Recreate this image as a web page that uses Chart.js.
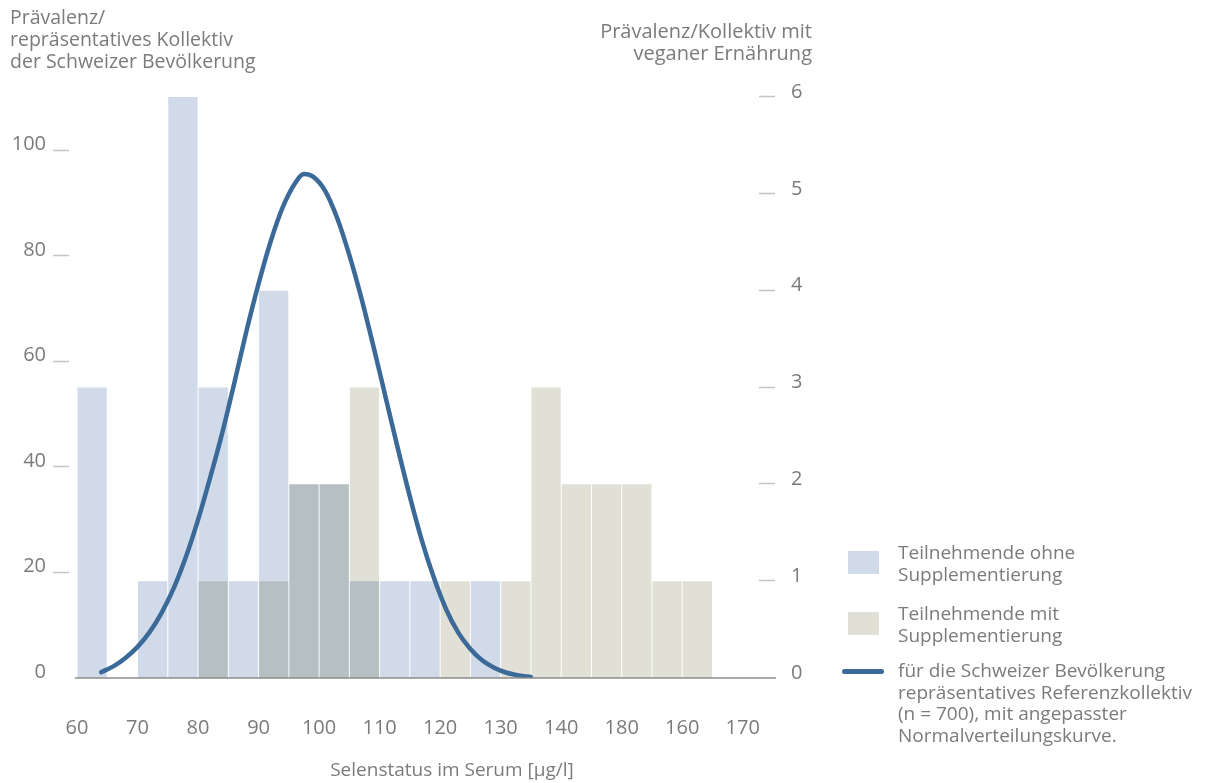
<!DOCTYPE html>
<html lang="de">
<head>
<meta charset="utf-8">
<title>Selenstatus im Serum</title>
<script src="https://cdn.jsdelivr.net/npm/chart.js@4.4.1/dist/chart.umd.min.js"></script>
<style>
    html, body { margin: 0; padding: 0; background: #fff; }
    body { font-family: "Open Sans", "Noto Sans", sans-serif; color: #7b7b7b; }
    #wrap { position: relative; width: 1219px; height: 783px; overflow: hidden; }
    #chart { position: absolute; left: 0; top: 0; }
    .txt { position: absolute; font-size: 19.5px; line-height: 22px; white-space: nowrap; }
    #titleLeft { left: 10px; top: 6px; }
    #titleRight { right: 407px; top: 20px; text-align: right; font-size: 20px; }
    #titleX { left: 452px; top: 758px; transform: translateX(-50%); font-size: 19px; }
    .legend-item { position: absolute; left: 842px; }
    .legend-item .swatch { position: absolute; }
    .legend-item .label { position: absolute; left: 56px; top: 0; font-size: 19px; line-height: 21.5px; white-space: nowrap; }
</style>
</head>
<body>
<div id="wrap">
    <canvas id="chart" width="1219" height="783"></canvas>
    <div class="txt" id="titleLeft">Prävalenz/<br>repräsentatives Kollektiv<br>der Schweizer Bevölkerung</div>
    <div class="txt" id="titleRight">Prävalenz/Kollektiv mit<br>veganer Ernährung</div>
    <div class="txt" id="titleX">Selenstatus im Serum [µg/l]</div>
    <div id="legend"></div>
</div>
<script>
// histogram bins (lower edge, width 5 µg/l)
const binStarts = [60, 65, 70, 75, 80, 85, 90, 95, 100, 105, 110, 115, 120, 125, 130, 135, 140, 145, 150, 155, 160];
const ohneSupplement = [3, 0, 1, 6, 3, 1, 4, 2, 2, 1, 1, 1, 0, 1, 0, 0, 0, 0, 0, 0, 0];
const mitSupplement  = [0, 0, 0, 0, 1, 0, 1, 2, 2, 3, 0, 0, 1, 0, 1, 3, 2, 2, 2, 1, 1];

// fitted normal curve of the reference group (left axis)
const curveX = [64, 66, 68, 70, 72, 74, 76, 78, 80, 82, 84, 86, 88, 90, 92, 94, 96, 97.5, 99, 101, 103, 105, 107, 109, 111, 113, 115, 117, 119, 121, 123, 125, 127, 129, 131, 133, 135];
const curveY = [1.1, 2.2, 3.8, 5.9, 8.7, 12.4, 17.1, 23.0, 30.0, 38.0, 46.5, 56.0, 65.8, 74.8, 82.8, 89.3, 93.8, 95.6, 95.1, 92.4, 87.2, 80.2, 72.0, 62.8, 53.2, 43.6, 34.4, 26.0, 18.9, 13.0, 8.6, 5.5, 3.3, 1.9, 1.0, 0.5, 0.2];

const xTickValues = [60, 70, 80, 90, 100, 110, 120, 130, 140, 150, 160, 170];
const xTickLabels = ['60', '70', '80', '90', '100', '110', '120', '130', '140', '180', '160', '170'];
const leftTicks = [0, 20, 40, 60, 80, 100];
const rightTicks = [0, 1, 2, 3, 4, 5, 6];

const legendItems = [
    { label: 'Teilnehmende ohne<br>Supplementierung', kind: 'box', color: '#d0dae8' },
    { label: 'Teilnehmende mit<br>Supplementierung', kind: 'box', color: '#e0e0d6' },
    { label: 'für die Schweizer Bevölkerung<br>repräsentatives Referenzkollektiv<br>(n = 700), mit angepasster<br>Normalverteilungskurve.', kind: 'line', color: '#3b6a99' }
];

const GREY = '#7b7b7b';
const FONT = '"Open Sans", "Noto Sans", sans-serif';

// build legend
const legendTops = [542, 603, 660];
const legendEl = document.getElementById('legend');
legendItems.forEach((it, i) => {
    const d = document.createElement('div');
    d.className = 'legend-item';
    d.style.top = legendTops[i] + 'px';
    let sw;
    if (it.kind === 'box') {
        sw = `<div class="swatch" style="left:6px;top:9px;width:31px;height:23px;background:${it.color}"></div>`;
    } else {
        sw = `<div class="swatch" style="left:0;top:9px;width:42px;height:5px;border-radius:3px;background:${it.color}"></div>`;
    }
    d.innerHTML = sw + `<div class="label">${it.label}</div>`;
    legendEl.appendChild(d);
});

// overlapping bars are shown darker: multiply the second histogram over the first
const multiplyPlugin = {
    id: 'multiply',
    beforeDatasetDraw(chart, args) {
        if (args.meta.type === 'bar' && args.index === 2) {
            chart.ctx.save();
            chart.ctx.globalCompositeOperation = 'multiply';
        }
    },
    afterDatasetDraw(chart, args) {
        if (args.meta.type === 'bar' && args.index === 2) chart.ctx.restore();
    }
};

// short tick dashes next to the numbers, plus the base line
const tickMarks = {
    id: 'tickMarks',
    afterDraw(chart) {
        const { ctx, scales, chartArea } = chart;
        ctx.save();
        ctx.strokeStyle = '#c4c4c4';
        ctx.lineWidth = 1.5;
        leftTicks.forEach(v => {
            if (v === 0) return;
            const y = Math.round(scales.y.getPixelForValue(v)) - 0.5;
            ctx.beginPath(); ctx.moveTo(chartArea.left - 24, y); ctx.lineTo(chartArea.left - 8, y); ctx.stroke();
        });
        rightTicks.forEach(v => {
            if (v === 0) return;
            const y = Math.round(scales.y1.getPixelForValue(v)) - 0.5;
            ctx.beginPath(); ctx.moveTo(chartArea.right - 14, y); ctx.lineTo(chartArea.right + 2, y); ctx.stroke();
        });
        const yb = scales.y.getPixelForValue(0);
        ctx.strokeStyle = '#8c8c8c';
        ctx.beginPath(); ctx.moveTo(chartArea.left - 2, yb); ctx.lineTo(chartArea.right + 3, yb); ctx.stroke();
        ctx.restore();
    }
};

const ctx = document.getElementById('chart').getContext('2d');
new Chart(ctx, {
    type: 'bar',
    data: {
        datasets: [
            {
                type: 'line',
                label: 'Referenzkollektiv',
                data: curveX.map((x, i) => ({ x: x, y: curveY[i] })),
                yAxisID: 'y',
                borderColor: '#3b6a99',
                borderWidth: 4.5,
                borderCapStyle: 'round',
                pointRadius: 0,
                cubicInterpolationMode: 'monotone',
                order: 0
            },
            {
                label: 'Teilnehmende ohne Supplementierung',
                data: binStarts.map((b, i) => ({ x: b + 2.5, y: ohneSupplement[i] })),
                yAxisID: 'y1',
                backgroundColor: '#d0dae8',
                order: 2
            },
            {
                label: 'Teilnehmende mit Supplementierung',
                data: binStarts.map((b, i) => ({ x: b + 2.5, y: mitSupplement[i] })),
                yAxisID: 'y1',
                backgroundColor: '#e0e0d6',
                order: 1
            }
        ]
    },
    options: {
        responsive: false,
        animation: false,
        grouped: false,
        barPercentage: 0.967,
        categoryPercentage: 1,
        layout: { padding: { top: 97, left: 0, right: 0, bottom: 0 } },
        plugins: { legend: { display: false }, tooltip: { enabled: false } },
        scales: {
            x: {
                type: 'linear',
                offset: false,
                min: 60,
                max: 175,
                grid: { display: false },
                border: { display: false },
                afterBuildTicks: s => { s.ticks = xTickValues.map(v => ({ value: v })); },
                afterFit: s => { s.height = 105; },
                ticks: {
                    padding: 30,
                    color: GREY,
                    font: { family: FONT, size: 20 },
                    maxRotation: 0,
                    autoSkip: false,
                    callback: v => xTickLabels[xTickValues.indexOf(v)]
                }
            },
            y: {
                position: 'left',
                min: 0,
                max: 110.2,
                grid: { display: false },
                border: { display: false },
                afterBuildTicks: s => { s.ticks = leftTicks.map(v => ({ value: v })); },
                afterFit: s => { s.width = 77; },
                ticks: {
                    padding: 23,
                    labelOffset: -6,
                    color: GREY,
                    font: { family: FONT, size: 20 }
                }
            },
            y1: {
                position: 'right',
                min: 0,
                max: 6,
                grid: { display: false },
                border: { display: false },
                afterBuildTicks: s => { s.ticks = rightTicks.map(v => ({ value: v })); },
                afterFit: s => { s.width = 1219 - 773; },
                ticks: {
                    padding: 10,
                    labelOffset: -5,
                    color: GREY,
                    font: { family: FONT, size: 20 }
                }
            }
        }
    },
    plugins: [multiplyPlugin, tickMarks]
});
</script>
</body>
</html>
